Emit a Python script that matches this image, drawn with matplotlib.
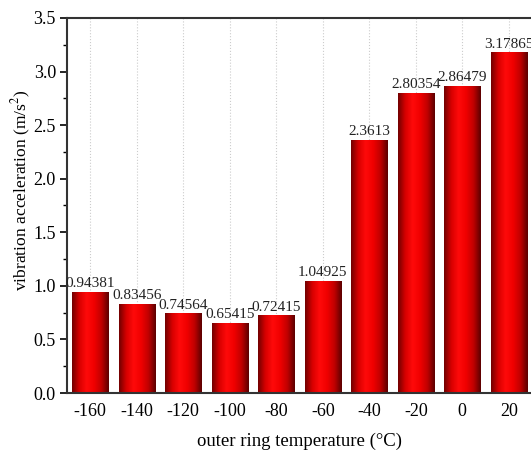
import numpy as np
import matplotlib
matplotlib.use("Agg")
import matplotlib.pyplot as plt
from matplotlib.colors import LinearSegmentedColormap
from matplotlib.ticker import MultipleLocator

categories = ["-160", "-140", "-120", "-100", "-80", "-60", "-40", "-20", "0", "20"]
values = [0.94381, 0.83456, 0.74564, 0.65415, 0.72415, 1.04925, 2.3613, 2.80354, 2.86479, 3.17865]
labels = ["0.94381", "0.83456", "0.74564", "0.65415", "0.72415", "1.04925", "2.3613", "2.80354", "2.86479", "3.17865"]

plt.rcParams['font.family'] = ['Liberation Serif', 'DejaVu Serif']
plt.rcParams['mathtext.fontset'] = 'stix'

fig = plt.figure(figsize=(5.31, 4.5), dpi=100)
ax = fig.add_axes([67/531, 1 - 393/450, 1 - 67/531 + 0.002, (393 - 18)/450])

x = np.arange(len(categories))
bars = ax.bar(x, values, width=0.78, color='#e00000', edgecolor='#500000', linewidth=0.6, zorder=2)

cmap = LinearSegmentedColormap.from_list('cyl', ['#700000', '#d80000', '#ff0a0a', '#f00000', '#c00000', '#5a0000'])
grad = np.linspace(0, 1, 256).reshape(1, -1)
for b in bars:
    bx, by = b.get_x(), b.get_y()
    w, h = b.get_width(), b.get_height()
    im = ax.imshow(grad, extent=[bx, bx + w, by, by + h], aspect='auto', cmap=cmap, zorder=2.5, interpolation='bicubic')
    im.set_clip_path(b)

for xi, v, lab in zip(x, values, labels):
    ax.text(xi, v + 0.015, lab, ha='center', va='bottom', fontsize=11, color='#222222', zorder=4)

ax.set_xlim(-0.5, len(categories) - 0.5)
ax.set_ylim(0, 3.5)
ax.set_xticks(x)
ax.set_xticklabels(categories)
ax.yaxis.set_major_locator(MultipleLocator(0.5))
ax.yaxis.set_minor_locator(MultipleLocator(0.25))
ax.tick_params(axis='y', which='major', direction='out', length=5, width=1.2, labelsize=13, pad=3)
ax.tick_params(axis='y', which='minor', direction='out', length=3, width=1.0)
ax.tick_params(axis='x', which='major', length=0, pad=7, labelsize=13)
ax.xaxis.grid(True, linestyle=':', color='#cccccc', linewidth=0.8, zorder=0)
ax.set_axisbelow(True)
for s in ['left', 'bottom', 'top']:
    ax.spines[s].set_linewidth(1.5)
    ax.spines[s].set_color('#333333')
ax.spines['right'].set_visible(False)

ax.set_ylabel('vibration acceleration (m/s$^2$)', fontsize=12.6, va='center')
ax.yaxis.set_label_coords(-0.097, 0.54)
ax.set_xlabel('outer ring temperature (\u00b0C)', fontsize=13.5, labelpad=9)

fig.savefig('out.png', dpi=100)
